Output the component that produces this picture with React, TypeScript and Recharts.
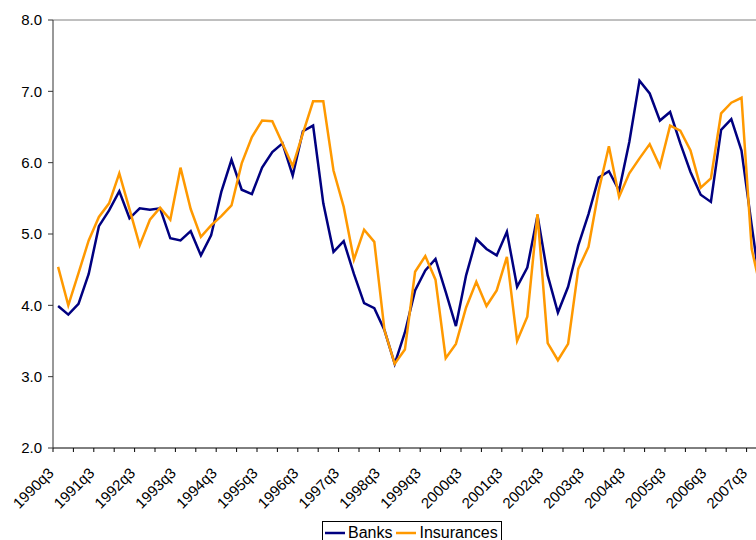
import React from 'react';
import { LineChart, Line, XAxis, YAxis, ReferenceLine, Legend } from 'recharts';

const FONT = '"Liberation Sans", Arial, sans-serif';

// every quarter on the axis (the last one runs past the picture's right edge)
const quarters: string[] = [
  '1990q3', '1990q4', '1991q1', '1991q2', '1991q3', '1991q4', '1992q1', '1992q2',
  '1992q3', '1992q4', '1993q1', '1993q2', '1993q3', '1993q4', '1994q1', '1994q2',
  '1994q3', '1994q4', '1995q1', '1995q2', '1995q3', '1995q4', '1996q1', '1996q2',
  '1996q3', '1996q4', '1997q1', '1997q2', '1997q3', '1997q4', '1998q1', '1998q2',
  '1998q3', '1998q4', '1999q1', '1999q2', '1999q3', '1999q4', '2000q1', '2000q2',
  '2000q3', '2000q4', '2001q1', '2001q2', '2001q3', '2001q4', '2002q1', '2002q2',
  '2002q3', '2002q4', '2003q1', '2003q2', '2003q3', '2003q4', '2004q1', '2004q2',
  '2004q3', '2004q4', '2005q1', '2005q2', '2005q3', '2005q4', '2006q1', '2006q2',
  '2006q3', '2006q4', '2007q1', '2007q2', '2007q3', '2007q4',
];

// labelled quarters (every fourth one)
const tickLabels: string[] = [
  '1990q3', '1991q3', '1992q3', '1993q3', '1994q3', '1995q3', '1996q3', '1997q3', '1998q3',
  '1999q3', '2000q3', '2001q3', '2002q3', '2003q3', '2004q3', '2005q3', '2006q3', '2007q3',
];

const banks: number[] = [
  3.99, 3.87, 4.02, 4.44, 5.11, 5.33, 5.60, 5.22, 5.36, 5.34,
  5.36, 4.94, 4.91, 5.04, 4.70, 4.98, 5.59, 6.04, 5.62, 5.56,
  5.93, 6.15, 6.27, 5.82, 6.44, 6.52, 5.43, 4.75, 4.90, 4.44,
  4.03, 3.96, 3.65, 3.18, 3.62, 4.21, 4.49, 4.65, 4.19, 3.71,
  4.42, 4.93, 4.79, 4.70, 5.03, 4.26, 4.53, 5.26, 4.42, 3.90,
  4.26, 4.84, 5.28, 5.79, 5.88, 5.61, 6.29, 7.15, 6.97, 6.59,
  6.71, 6.27, 5.87, 5.55, 5.45, 6.46, 6.61, 6.17, 5.12, 4.10,
];

const insurances: number[] = [
  4.54, 4.00, 4.45, 4.91, 5.24, 5.43, 5.85, 5.35, 4.84, 5.20,
  5.37, 5.20, 5.93, 5.35, 4.96, 5.12, 5.25, 5.40, 5.99, 6.36,
  6.59, 6.58, 6.27, 5.95, 6.41, 6.86, 6.86, 5.89, 5.38, 4.64,
  5.06, 4.89, 3.65, 3.18, 3.38, 4.47, 4.69, 4.36, 3.26, 3.46,
  3.97, 4.33, 3.99, 4.21, 4.68, 3.50, 3.84, 5.28, 3.47, 3.23,
  3.46, 4.51, 4.82, 5.61, 6.23, 5.52, 5.85, 6.06, 6.26, 5.95,
  6.52, 6.45, 6.17, 5.65, 5.78, 6.69, 6.84, 6.91, 4.79, 4.15,
];

const yTicks: number[] = [2, 3, 4, 5, 6, 7, 8];

const series = [
  { key: 'banks', name: 'Banks', color: '#000080' },
  { key: 'insurances', name: 'Insurances', color: '#FF9900' },
];

const CHART_W = 790;
const Y_AXIS_W = 53;
const RIGHT = 23;
// half of one quarter's slot in pixels, to centre a label in its slot
const HALF_SLOT = (CHART_W - Y_AXIS_W - RIGHT) / quarters.length / 2;

// x is the middle of each quarter's slot, so tick marks can sit between quarters
const rows = quarters.map((q, i) => ({ x: i + 0.5, quarter: q, banks: banks[i], insurances: insurances[i] }));

// tick marks every second quarter boundary
const tickMarks = quarters.map((_, i) => i).concat([quarters.length]).filter((i) => i % 2 === 0);

const QuarterTick = (props: any) => {
  const { x, y, payload } = props;
  const label = quarters[payload.value];
  if (!label || !tickLabels.includes(label)) return <g />;
  const tx = x + HALF_SLOT - 3.5;
  const ty = y + 22;
  return (
    <text x={tx} y={ty} textAnchor="end" transform={`rotate(-45, ${tx}, ${ty})`}
      fontSize={15} fontFamily={FONT} fill="#000">
      {label}
    </text>
  );
};

const LegendBox = () => (
  <div style={{
    display: 'inline-flex', alignItems: 'center', height: 24, boxSizing: 'border-box',
    border: '1px solid #000', background: '#fff', padding: '0 3px 0 2px',
    fontFamily: FONT, fontSize: 16, color: '#000', lineHeight: '16px',
  }}>
    {series.map((s, i) => (
      <span key={s.key} style={{ display: 'inline-flex', alignItems: 'center', marginLeft: i ? 4 : 0 }}>
        <svg width={20} height={4} style={{ marginRight: 3 }}>
          <line x1={0} y1={2} x2={20} y2={2} stroke={s.color} strokeWidth={2.5} />
        </svg>
        <span>{s.name}</span>
      </span>
    ))}
  </div>
);

export default function App() {
  return (
    <div style={{ position: 'absolute', left: 0, top: 0, width: 756, height: 540, overflow: 'hidden', background: '#fff' }}>
      <LineChart width={CHART_W} height={540} data={rows} margin={{ top: 20, right: RIGHT, bottom: 0, left: 0 }}>
        <XAxis type="number" dataKey="x" domain={[0, quarters.length]} ticks={tickMarks}
          interval={0} tick={<QuarterTick />} tickSize={4} tickMargin={0} height={68}
          axisLine={{ stroke: '#000' }} tickLine={{ stroke: '#000' }} />
        <YAxis domain={[2, 8]} ticks={yTicks} interval={0} width={Y_AXIS_W} tickSize={5} tickMargin={6}
          tickFormatter={(v: number) => v.toFixed(1)}
          tick={{ fill: '#000', fontSize: 15, fontFamily: FONT }}
          axisLine={{ stroke: '#333' }} tickLine={{ stroke: '#333' }} />
        <ReferenceLine y={8} stroke="#808080" strokeWidth={1} />
        {series.map((s) => (
          <Line key={s.key} type="linear" dataKey={s.key} name={s.name} stroke={s.color}
            strokeWidth={2.5} dot={false} activeDot={false} isAnimationActive={false} />
        ))}
        <Legend content={<LegendBox />} wrapperStyle={{ left: 322, bottom: -5, width: 'auto' }} />
      </LineChart>
    </div>
  );
}
